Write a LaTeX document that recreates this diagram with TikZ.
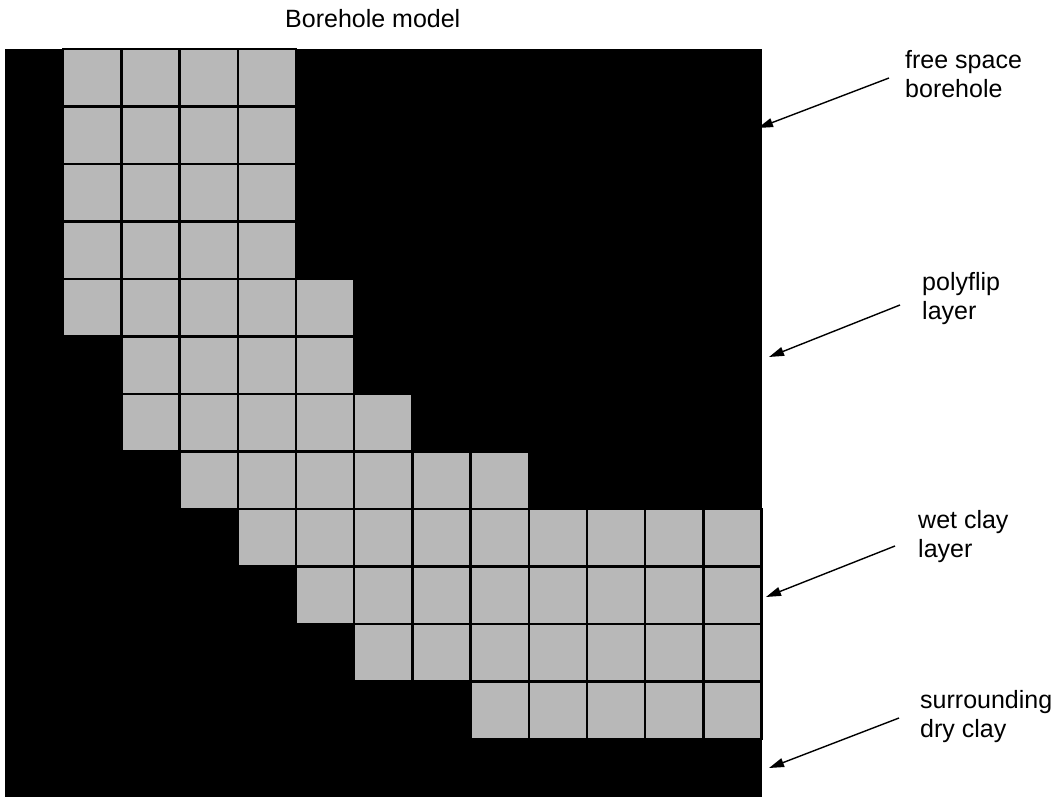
\documentclass[tikz,border=0pt]{standalone}
\usepackage{fontspec}
\setmainfont{Liberation Sans}
\usetikzlibrary{arrows.meta,calc}
\begin{document}
\begin{tikzpicture}[x=1pt,y=-1pt,
  lbl/.style={anchor=north west, inner sep=0pt, align=left, font=\fontsize{25}{29}\selectfont},
  ttl/.style={anchor=base west, inner sep=0pt, font=\fontsize{25}{29}\selectfont},
  cell/.style={fill=black!28, draw=black, line width=2.5pt},
  arr/.style={line width=1.4pt, -{Triangle[length=15pt,width=9pt]}}]
\useasboundingbox (0,0) rectangle (1058,799);
% model background
\fill[black] (5,49) rectangle (762,797);
% gray cells
\foreach \r/\a/\b in {0/1/4,1/1/4,2/1/4,3/1/4,4/1/5,5/2/5,6/2/6,7/3/8,8/4/12,9/5/12,10/6/12,11/8/12}{
  \foreach \c in {\a,...,\b}{
    \draw[cell] ({5+58.2*\c},{49+57.5*\r}) rectangle ++(58.2,57.5);
  }
}
% title
\node[ttl] (title) at (285,28) {Borehole model};
% labels
\node[lbl] (l1) at (905,50) {free space\\borehole};
\node[lbl] (l2) at (922,272) {polyflip\\layer};
\node[lbl] (l3) at (918,510) {wet clay\\layer};
\node[lbl] (l4) at (920,690) {surrounding\\dry clay};
% arrow tips
\coordinate (t1) at (758,128);
\coordinate (t2) at (769,357);
\coordinate (t3) at (766,597);
\coordinate (t4) at (769,768);
\draw[arr] ([shift={(-16,28)}]l1.north west) -- (t1);
\draw[arr] ([shift={(-22,33)}]l2.north west) -- (t2);
\draw[arr] ([shift={(-23,36)}]l3.north west) -- (t3);
\draw[arr] ([shift={(-21,28)}]l4.north west) -- (t4);
\end{tikzpicture}
\end{document}
